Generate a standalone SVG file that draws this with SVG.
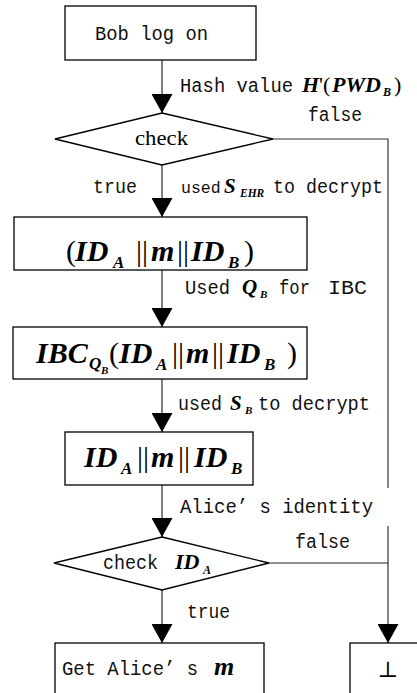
<svg xmlns="http://www.w3.org/2000/svg" width="417" height="693" viewBox="0 0 417 693">
<defs>
<style>
.box{fill:#fff;stroke:#000;stroke-width:1.3}
.con{fill:none;stroke:#555;stroke-width:1.5}
.mono{font-family:"Liberation Mono","DejaVu Sans Mono",monospace;font-size:20px;fill:#111}
.math{font-family:"Liberation Serif","Times New Roman",serif;fill:#000}
.bi{font-weight:bold;font-style:italic}
</style>
<marker id="ah" viewBox="0 0 19 21" markerWidth="19" markerHeight="21" refX="19" refY="10.5" orient="auto" markerUnits="userSpaceOnUse">
<path d="M0,0 L19,10.5 L0,21 Z" fill="#000"/>
</marker>
</defs>
<rect width="417" height="693" fill="#fff"/>

<g id="connectors">
<line class="con" x1="162" y1="60" x2="162" y2="113" marker-end="url(#ah)"/>
<line class="con" x1="162" y1="165" x2="162" y2="217" marker-end="url(#ah)"/>
<line class="con" x1="162" y1="270" x2="162" y2="327" marker-end="url(#ah)"/>
<line class="con" x1="162" y1="379" x2="162" y2="432" marker-end="url(#ah)"/>
<line class="con" x1="162" y1="485" x2="162" y2="537" marker-end="url(#ah)"/>
<line class="con" x1="162" y1="590" x2="162" y2="643" marker-end="url(#ah)"/>
<polyline class="con" points="273,139 388,139 388,488" style="stroke:#333;stroke-width:1.2"/>
<line class="con" x1="388" y1="526" x2="388" y2="643" marker-end="url(#ah)" style="stroke:#333;stroke-width:1.2"/>
<line class="con" x1="269" y1="563" x2="388" y2="563" style="stroke:#222;stroke-width:1.2"/>
<text class="mono" x="180" y="92" textLength="113" lengthAdjust="spacingAndGlyphs">Hash value</text>
<text class="math" y="92" font-size="22"><tspan class="bi" x="302">H</tspan><tspan x="319">'(</tspan><tspan class="bi" x="332">PWD</tspan><tspan class="bi" x="383" y="96" font-size="12">B</tspan><tspan x="394" y="92">)</tspan></text>
<text class="mono" x="308" y="121" textLength="54" lengthAdjust="spacingAndGlyphs">false</text>
<text class="mono" x="93" y="193" textLength="44" lengthAdjust="spacingAndGlyphs">true</text>
<text class="math" y="193" font-size="21"><tspan x="181" style="font-family:'Liberation Mono',monospace;font-size:16.5px;fill:#111">used</tspan><tspan class="bi" x="224">S</tspan><tspan class="bi" x="240" y="197" font-size="11.5">EHR</tspan></text>
<text class="mono" x="273" y="193" textLength="110" lengthAdjust="spacingAndGlyphs">to decrypt</text>
<text class="mono" x="185" y="294" textLength="45" lengthAdjust="spacingAndGlyphs">Used</text>
<text class="math" y="294" font-size="21"><tspan class="bi" x="242">Q</tspan><tspan class="bi" x="260" y="298" font-size="11">B</tspan></text>
<text class="mono" x="279" y="294" textLength="31" lengthAdjust="spacingAndGlyphs">for</text>
<text class="mono" x="328" y="294" textLength="39" lengthAdjust="spacingAndGlyphs">IBC</text>
<text class="mono" x="178" y="410" textLength="44" lengthAdjust="spacingAndGlyphs">used</text>
<text class="math" y="410" font-size="21"><tspan class="bi" x="230">S</tspan><tspan class="bi" x="245" y="414" font-size="11">B</tspan></text>
<text class="mono" x="258" y="410" textLength="112" lengthAdjust="spacingAndGlyphs">to decrypt</text>
<text class="mono" x="180" y="513" textLength="193" lengthAdjust="spacingAndGlyphs">Alice’ s identity</text>
<text class="mono" x="295" y="548" textLength="55" lengthAdjust="spacingAndGlyphs">false</text>
<text class="mono" x="187" y="618" textLength="43" lengthAdjust="spacingAndGlyphs">true</text>
</g>

<g id="bob-log-on">
<rect class="box" x="65" y="6" width="191" height="54"/>
<text class="mono" x="95" y="40" textLength="113" lengthAdjust="spacingAndGlyphs">Bob log on</text>
</g>

<g id="check">
<polygon class="box" points="162,113 273,139 162,165 55,139"/>
<text class="math" x="135" y="145" font-size="21" textLength="53" lengthAdjust="spacingAndGlyphs">check</text>
</g>

<g id="plain">
<rect class="box" x="14" y="217" width="293" height="53"/>
<text class="math" y="261" font-size="30"><tspan x="66">(</tspan><tspan class="bi" x="75">ID</tspan><tspan class="bi" x="113" y="268" font-size="17">A</tspan><tspan x="136" y="261">||</tspan><tspan class="bi" x="151">m</tspan><tspan x="177">||</tspan><tspan class="bi" x="191">ID</tspan><tspan class="bi" x="228" y="268" font-size="17">B</tspan><tspan x="244" y="261">)</tspan></text>
</g>

<g id="ibc">
<rect class="box" x="13" y="327" width="294" height="52"/>
<text class="math" y="363" font-size="30"><tspan class="bi" x="36">IBC</tspan><tspan class="bi" x="89" y="369" font-size="17">Q</tspan><tspan class="bi" x="101" y="374" font-size="11">B</tspan><tspan x="109" y="363">(</tspan><tspan class="bi" x="119">ID</tspan><tspan class="bi" x="156" y="370" font-size="17">A</tspan><tspan x="172" y="363">||</tspan><tspan class="bi" x="186">m</tspan><tspan x="212">||</tspan><tspan class="bi" x="227">ID</tspan><tspan class="bi" x="264" y="370" font-size="17">B</tspan><tspan x="287" y="363">)</tspan></text>
</g>

<g id="decrypted">
<rect class="box" x="65" y="432" width="188" height="53"/>
<text class="math" y="467" font-size="30"><tspan class="bi" x="84">ID</tspan><tspan class="bi" x="121" y="474" font-size="17">A</tspan><tspan x="137" y="467">||</tspan><tspan class="bi" x="151">m</tspan><tspan x="178">||</tspan><tspan class="bi" x="194">ID</tspan><tspan class="bi" x="231" y="474" font-size="17">B</tspan></text>
</g>

<g id="check-ida">
<polygon class="box" points="162,537 269,563 162,590 54,563"/>
<text class="mono" x="103" y="569" textLength="55" lengthAdjust="spacingAndGlyphs">check</text>
<text class="math" y="569" font-size="22"><tspan class="bi" x="175">ID</tspan><tspan class="bi" x="203" y="574" font-size="12">A</tspan></text>
</g>

<g id="get-m">
<rect class="box" x="55" y="643" width="209" height="60"/>
<text class="mono" x="62" y="675" textLength="136" lengthAdjust="spacingAndGlyphs">Get Alice’ s</text>
<text class="math bi" x="214" y="675" font-size="26">m</text>
</g>

<g id="bottom">
<rect class="box" x="350" y="643" width="80" height="60"/>
<text x="388" y="677" font-family="DejaVu Serif, serif" font-size="22" text-anchor="middle">⊥</text>
</g>
</svg>
